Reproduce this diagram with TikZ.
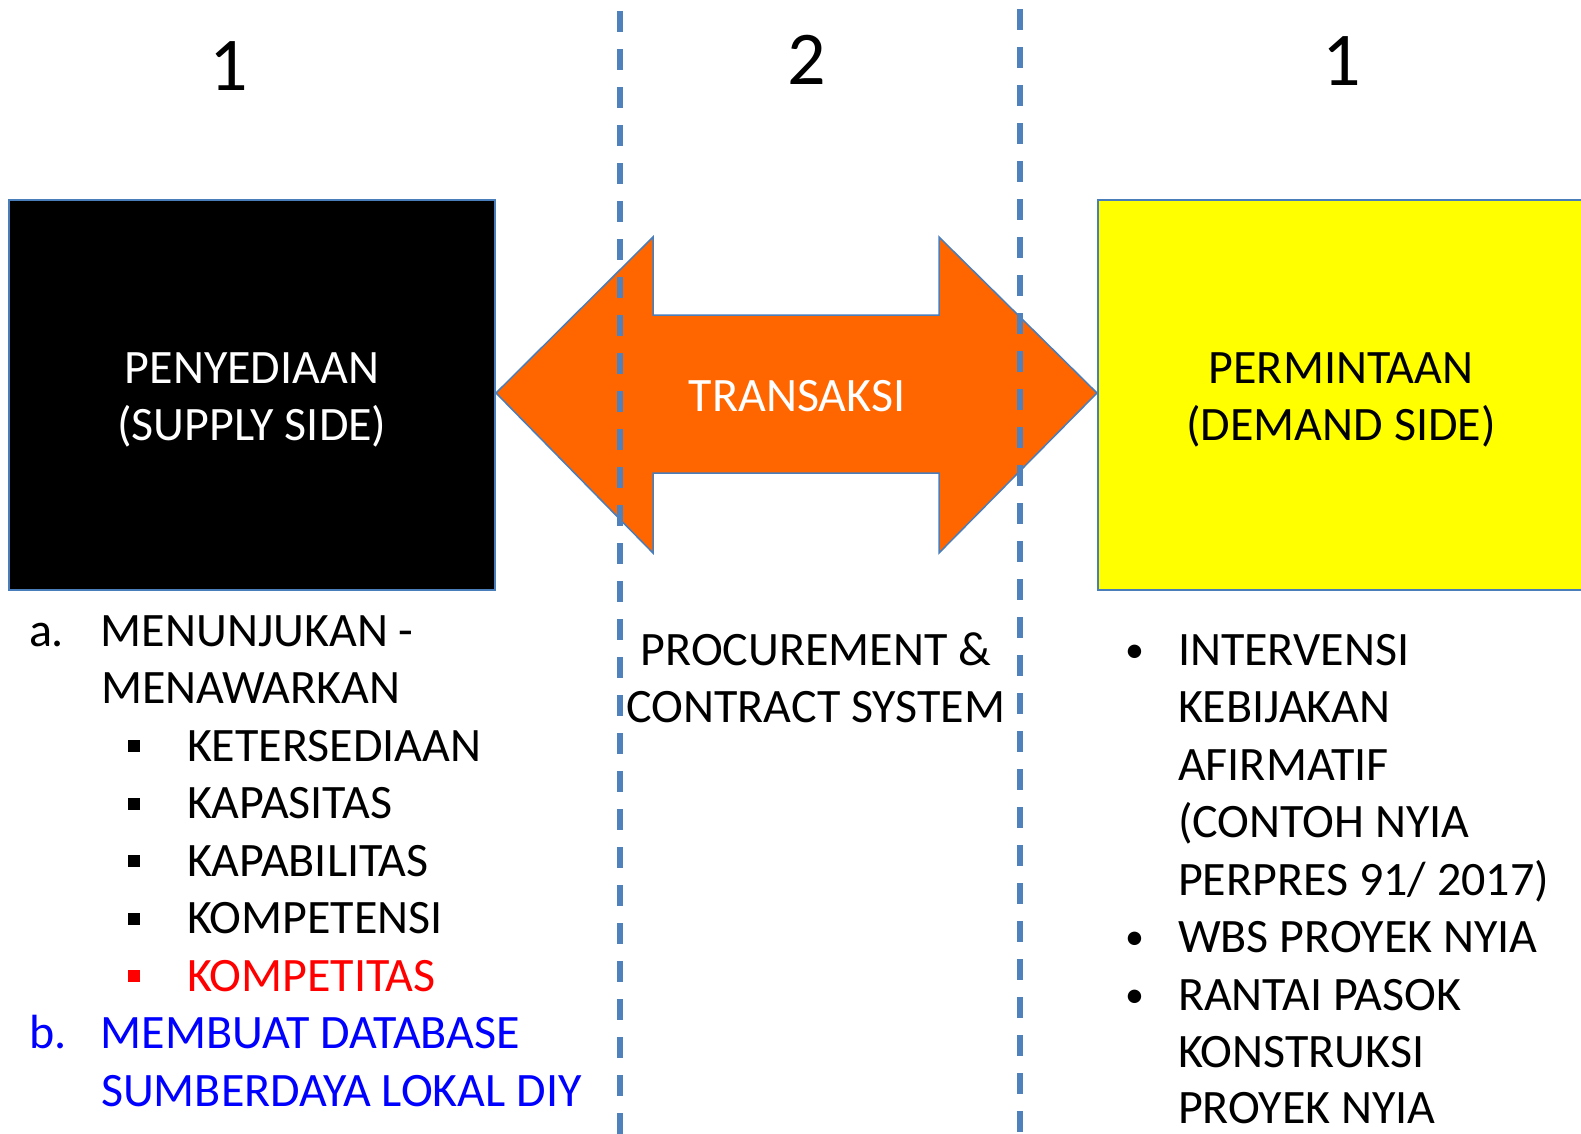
\documentclass[tikz,border=0pt]{standalone}
\usepackage{fontspec}
\setmainfont{Carlito}
\definecolor{edgeblue}{HTML}{4A7EBB}
\definecolor{dashblue}{HTML}{4F81BD}
\definecolor{arroworange}{HTML}{FF6600}
\definecolor{boxyellow}{HTML}{FFFF00}
\definecolor{listred}{HTML}{FF0000}
\definecolor{listblue}{HTML}{0000FF}
\newcommand{\sqbul}{\makebox[86pt][l]{\hspace{27pt}\raisebox{9pt}{\rule{12pt}{12pt}}}}
\newcommand{\rdbul}{\makebox[53pt][l]{\raisebox{3pt}{\fontsize{38}{38}\selectfont\textbullet}}}
\begin{document}
\begin{tikzpicture}[x=1pt,y=-1pt,
  every node/.style={inner sep=0pt, outer sep=0pt},
  big/.style={font=\fontsize{76}{90}\selectfont, anchor=base},
  txt/.style={font=\fontsize{48}{57.5}\selectfont, anchor=base west},
  ctxt/.style={font=\fontsize{48}{57.5}\selectfont, anchor=base},
  sidebox/.style={draw=edgeblue, line width=1.5pt, anchor=north west,
    minimum width=486pt, minimum height=390pt},
  arrowshape/.style={fill=arroworange, draw=edgeblue, line width=1.5pt, line join=miter},
  divider/.style={draw=dashblue, line width=5.5pt, dash pattern=on 21pt off 17pt, dash phase=27pt}]
\useasboundingbox (0,0) rectangle (1581,1133);
\begin{scope}
\clip (0,0) rectangle (1581,1133);
% side boxes
\node[sidebox, fill=black] (supply) at (9,200) {};
\node[sidebox, fill=boxyellow] (demand) at (1098,200) {};
% double arrow
\draw[arrowshape] (496,393) -- (653,237) -- (653,315) -- (939,315) -- (939,237)
  -- (1097,393) -- (939,553) -- (939,473) -- (653,473) -- (653,553) -- cycle;
% dashed dividers
\coordinate (d1top) at (620,0);
\coordinate (d1bot) at (620,1140);
\coordinate (d2top) at (1020,0);
\coordinate (d2bot) at (1020,1140);
\draw[divider] (d1top) -- (d1bot);
\draw[divider, dash phase=29pt] (d2top) -- (d2bot);
\end{scope}
% column numbers
\node[big] (n1) at (229,90) {1};
\node[big] (n2) at (807,84) {2};
\node[big] (n3) at (1342,85) {1};
% box texts
\node[ctxt, text=white] (s1) at (252,383) {PENYEDIAAN};
\node[ctxt, text=white] (s2) at (252,440.5) {(SUPPLY SIDE)};
\node[ctxt, text=white] (tr) at (797,411) {TRANSAKSI};
\node[ctxt] (p1) at (1341,383) {PERMINTAAN};
\node[ctxt] (p2) at (1341,440.5) {(DEMAND SIDE)};
% left list
\node[txt] (la) at (29,646) {\makebox[72pt][l]{a.}MENUNJUKAN -};
\node[txt] (la2) at (101,703.5) {MENAWARKAN};
\node[txt] (l1) at (101,761) {\sqbul KETERSEDIAAN};
\node[txt] (l2) at (101,818.5) {\sqbul KAPASITAS};
\node[txt] (l3) at (101,876) {\sqbul KAPABILITAS};
\node[txt] (l4) at (101,933.5) {\sqbul KOMPETENSI};
\node[txt, text=listred] (l5) at (101,991) {\sqbul KOMPETITAS};
\node[txt, text=listblue] (lb) at (29,1048.5) {\makebox[72pt][l]{b.}MEMBUAT DATABASE};
\node[txt, text=listblue] (lb2) at (101,1106) {SUMBERDAYA LOKAL DIY};
% centre text
\node[ctxt] (c1) at (816,665) {PROCUREMENT \&};
\node[ctxt] (c2) at (816,722.5) {CONTRACT SYSTEM};
% right list
\node[txt] (r1) at (1125,665) {\rdbul INTERVENSI};
\node[txt] (r1b) at (1178,722.5) {KEBIJAKAN};
\node[txt] (r1c) at (1178,780) {AFIRMATIF};
\node[txt] (r1d) at (1178,837.5) {(CONTOH NYIA};
\node[txt] (r1e) at (1178,895) {PERPRES 91/ 2017)};
\node[txt] (r2) at (1125,952.5) {\rdbul WBS PROYEK NYIA};
\node[txt] (r3) at (1125,1010) {\rdbul RANTAI PASOK};
\node[txt] (r3b) at (1178,1067.5) {KONSTRUKSI};
\node[txt] (r3c) at (1178,1123) {PROYEK NYIA};
\end{tikzpicture}
\end{document}
